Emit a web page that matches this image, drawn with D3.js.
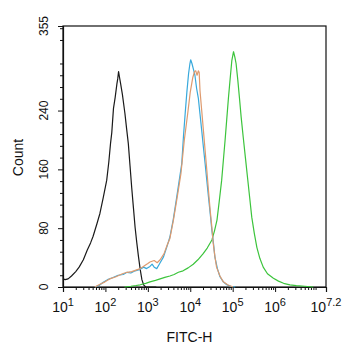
<!DOCTYPE html>
<html><head><meta charset="utf-8">
<script src="https://cdn.jsdelivr.net/npm/d3@7"></script>
<style>body{margin:0;background:#fff}svg{display:block}text{font-family:"Liberation Sans",Arial,sans-serif;fill:#111}</style>
</head><body>
<script>
// [log10(FITC-H), count]
const blackSeries = [[1.0,11],[1.05,10],[1.12,11],[1.2,15],[1.3,21],[1.38,27],[1.48,37],[1.57,50],[1.65,60],[1.71,69],[1.8,86],[1.87,100],[1.95,122],[2.03,145],[2.08,170],[2.12,195],[2.15,210],[2.19,243],[2.23,258],[2.27,276],[2.29,283],[2.31,293],[2.33,286],[2.36,276],[2.40,262],[2.46,236],[2.5,215],[2.54,195],[2.58,165],[2.62,135],[2.66,108],[2.70,81],[2.74,60],[2.78,41],[2.82,24],[2.86,10],[2.9,3],[2.95,0],[3.2,0]];
const blueSeries = [[1.75,0],[1.85,2],[1.94,6],[2.05,10],[2.18,13],[2.3,16],[2.42,17],[2.51,20],[2.6,19],[2.7,22],[2.82,24],[2.9,27],[2.97,25],[3.05,28],[3.1,31],[3.15,27],[3.21,25],[3.28,32],[3.37,41],[3.45,55],[3.52,68],[3.6,92],[3.68,122],[3.74,145],[3.80,168],[3.84,205],[3.88,236],[3.92,265],[3.96,290],[3.99,303],[4.01,309],[4.04,304],[4.08,295],[4.11,288],[4.15,270],[4.19,257],[4.23,235],[4.27,213],[4.31,190],[4.35,168],[4.39,145],[4.43,122],[4.47,100],[4.51,77],[4.55,58],[4.58,41],[4.64,25],[4.70,14],[4.78,7],[4.86,3],[4.95,1],[5.06,0]];
const orangeSeries = [[1.75,0],[1.85,3],[1.99,7],[2.1,11],[2.25,14],[2.4,18],[2.51,20],[2.62,21],[2.72,23],[2.82,25],[2.92,29],[3.0,32],[3.05,34],[3.15,36],[3.22,33],[3.29,37],[3.38,45],[3.45,56],[3.52,66],[3.6,90],[3.7,125],[3.78,154],[3.86,200],[3.94,236],[4.0,265],[4.06,285],[4.10,293],[4.13,294],[4.16,288],[4.19,294],[4.21,292],[4.23,267],[4.27,240],[4.31,213],[4.35,186],[4.39,159],[4.43,131],[4.47,104],[4.51,81],[4.54,60],[4.58,42],[4.62,27],[4.7,15],[4.78,7],[4.88,3],[5.01,0]];
const greenSeries = [[2.45,0],[2.6,1],[2.72,2],[2.82,3],[2.95,5],[3.05,7],[3.18,9],[3.29,11],[3.4,13],[3.52,15],[3.62,17],[3.72,20],[3.83,22],[3.95,26],[4.07,31],[4.18,37],[4.30,45],[4.4,53],[4.51,64],[4.57,76],[4.63,91],[4.68,115],[4.74,145],[4.78,172],[4.82,199],[4.86,228],[4.90,257],[4.94,283],[4.98,308],[5.02,320],[5.05,313],[5.08,304],[5.12,282],[5.16,257],[5.2,231],[5.25,203],[5.3,176],[5.35,149],[5.4,122],[5.45,95],[5.51,73],[5.57,54],[5.64,39],[5.72,27],[5.82,18],[5.96,12],[6.08,8],[6.2,5],[6.35,3],[6.5,2],[6.7,1],[6.9,0]];
const seriesColors = ["#1a1a1a","#3cc43c","#38a9dc","#de9a6e"];
const xTickExps = ["1","2","3","4","5","6","7.2"];
const yTickValues = [0,80,160,240,355];
const xLabel = "FITC-H";
const yLabel = "Count";

const W=342,H=350;
const m={l:63,r:16,t:26,b:63};
const svg=d3.select("body").append("svg").attr("width",W).attr("height",H);
const x=d3.scaleLinear().domain([1,7.2]).range([m.l,W-m.r]);
const y=d3.scaleLinear().domain([0,355]).range([H-m.b,m.t]);
const g=svg.append("g");

// frame
g.append("rect").attr("x",m.l).attr("y",m.t).attr("width",W-m.r-m.l).attr("height",H-m.b-m.t)
 .attr("fill","none").attr("stroke","#111").attr("stroke-width",1.2);

// x minor ticks (log)
const xMinor=[];
for(let d=1;d<7;d++){for(let k=2;k<=9;k++){const v=d+Math.log10(k); if(v<7.2) xMinor.push(v);}}
g.append("g").attr("transform",`translate(0,${H-m.b})`)
 .call(d3.axisBottom(x).tickValues(xMinor).tickSize(3).tickFormat(""))
 .call(s=>s.select(".domain").remove()).selectAll("line").attr("stroke","#111");
// x major
const xa=g.append("g").attr("transform",`translate(0,${H-m.b})`)
 .call(d3.axisBottom(x).tickValues(xTickExps.map(Number)).tickSize(5).tickFormat(""));
xa.select(".domain").attr("stroke","#111").attr("stroke-width",1.2);
xa.selectAll("line").attr("stroke","#111");
xTickExps.forEach(e=>{
  const t=svg.append("text").attr("x",x(+e)).attr("y",H-m.b+25).attr("text-anchor","middle").style("font-size","14px");
  t.append("tspan").text("10");
  t.append("tspan").attr("dy",-6).style("font-size","11px").text(e);
});

// y minor
const yMinor=d3.range(16,355,16).filter(v=>v%80!==0);
g.append("g").attr("transform",`translate(${m.l},0)`)
 .call(d3.axisLeft(y).tickValues(yMinor).tickSize(3).tickFormat(""))
 .call(s=>s.select(".domain").remove()).selectAll("line").attr("stroke","#111");
const ya=g.append("g").attr("transform",`translate(${m.l},0)`)
 .call(d3.axisLeft(y).tickValues(yTickValues).tickSize(5).tickFormat(""));
ya.select(".domain").attr("stroke","#111").attr("stroke-width",1.2);
ya.selectAll("line").attr("stroke","#111");
yTickValues.forEach(v=>{
  svg.append("text").attr("transform",`translate(${m.l-15},${y(v)}) rotate(-90)`)
   .attr("text-anchor","middle").style("font-size","12px").text(v);
});

// axis titles
svg.append("text").attr("x",(m.l+W-m.r)/2-5).attr("y",H-8).attr("text-anchor","middle").style("font-size","14px").text(xLabel);
svg.append("text").attr("transform",`translate(23,${(m.t+H-m.b)/2+1}) rotate(-90)`).attr("text-anchor","middle").style("font-size","14px").text(yLabel);

// curves
const line=d3.line().x(d=>x(d[0])).y(d=>y(d[1]));
[blackSeries,greenSeries,blueSeries,orangeSeries].forEach((s,i)=>{
  svg.append("path").datum(s).attr("d",line).attr("fill","none").attr("stroke",seriesColors[i]).attr("stroke-width",1.2).attr("stroke-linejoin","round");
});
</script>
</body></html>
